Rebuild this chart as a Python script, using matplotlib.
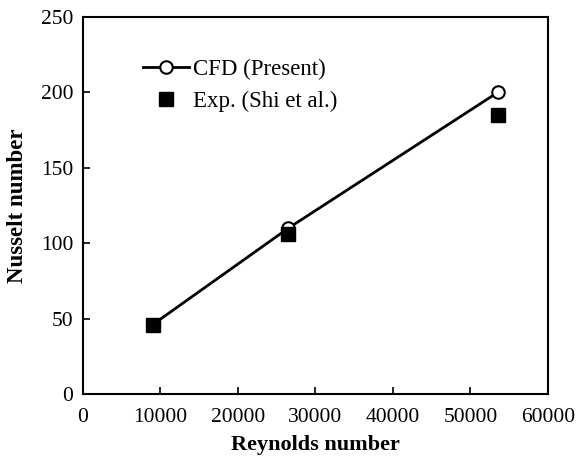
import matplotlib
matplotlib.use("Agg")
import matplotlib.pyplot as plt

re_cfd = [9000, 26500, 53500]
nu_cfd = [46, 110, 200]
re_exp = [9000, 26500, 53500]
nu_exp = [46, 106, 185]

plt.rcParams['font.family'] = ['Liberation Serif', 'DejaVu Serif']

fig = plt.figure(figsize=(5.83, 4.62), dpi=100)
ax = fig.add_axes([0.142, 0.147, 0.798, 0.816])

ax.plot(re_cfd, nu_cfd, '-o', color='black', lw=2, markersize=9,
        markerfacecolor='white', markeredgewidth=1.5, label='CFD (Present)', zorder=3)
ax.plot(re_exp, nu_exp, 's', color='black', markersize=9.5, linestyle='none',
        label='Exp. (Shi et al.)', zorder=4)

ax.set_xlim(0, 60000)
ax.set_ylim(0, 250)
ax.set_xticks([0, 10000, 20000, 30000, 40000, 50000, 60000])
ax.set_yticks([0, 50, 100, 150, 200, 250])
ax.tick_params(direction='in', labelsize=15.5, width=1.2, length=5, pad=7)
ax.tick_params(axis='x', pad=10)
for s in ax.spines.values():
    s.set_linewidth(1.5)

ax.set_xlabel('Reynolds number', fontsize=16, fontweight='bold', labelpad=6)
ax.set_ylabel('Nusselt number', fontsize=16.5, fontweight='bold', labelpad=9)

leg = ax.legend(loc='upper left', bbox_to_anchor=(0.085, 0.945), frameon=False,
                fontsize=16.5, handlelength=2.0, handletextpad=0.2, labelspacing=0.5)

fig.savefig('out.png', dpi=100)
